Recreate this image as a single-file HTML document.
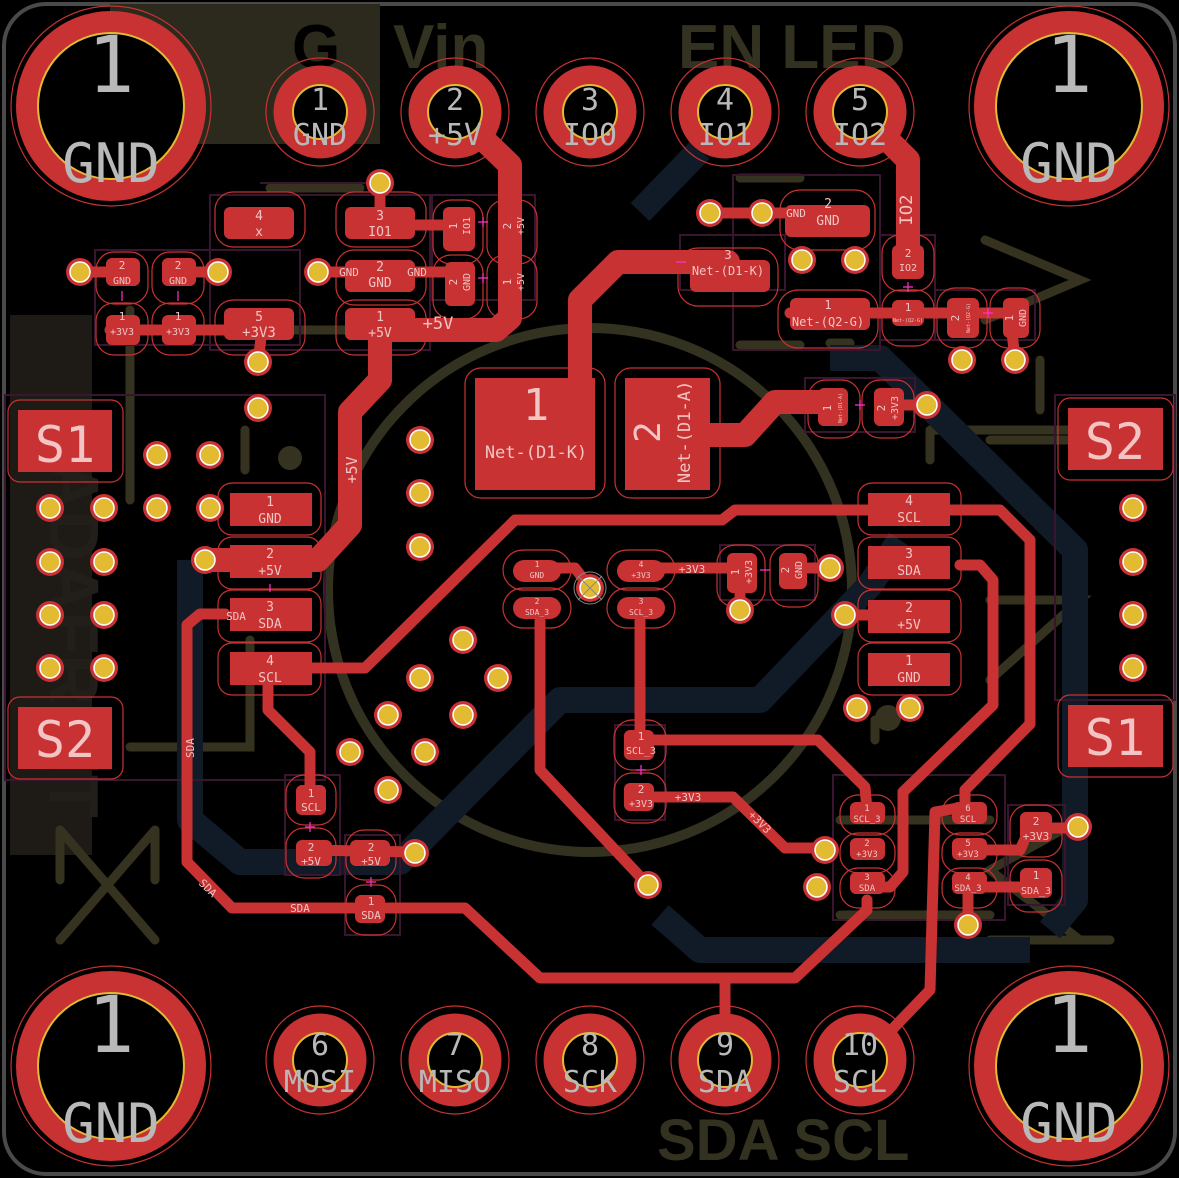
<!DOCTYPE html>
<html><head><meta charset="utf-8"><style>
html,body{margin:0;padding:0;background:#000;}
svg{display:block}
.pl{fill:#f2c4c4;font-family:"DejaVu Sans Mono","Liberation Mono",monospace;text-anchor:middle}
.gr{fill:#b9b9b9;font-family:"DejaVu Sans Mono","Liberation Mono",monospace;text-anchor:middle}
.sk{fill:#33311f;font-family:"Liberation Sans",sans-serif;font-weight:bold}
.p{fill:#c83232}
.o{fill:none;stroke:#c83232;stroke-width:1.2}
.t{fill:none;stroke:#c83232;stroke-linejoin:round;stroke-linecap:round}
.b{fill:none;stroke:#111b27;stroke-linejoin:round;stroke-width:26}
.s{fill:none;stroke:#35331f;stroke-width:9;stroke-linecap:round}
.c{fill:none;stroke:#3a1530;stroke-width:2}
</style></head><body>
<svg width="1179" height="1178" viewBox="0 0 1179 1178" xmlns="http://www.w3.org/2000/svg">
<defs>
<g id="via"><circle r="14" fill="#c83232"/><circle r="10" fill="#e3bb33" stroke="#fff" stroke-width="1.5"/></g>
</defs>
<rect x="0" y="0" width="1179" height="1178" fill="#000"/>
<rect x="4" y="4" width="1171" height="1170" rx="42" fill="none" stroke="#4a4a4a" stroke-width="4"/>

<rect x="110" y="4" width="270" height="140" fill="#2c2a1d"/>
<rect x="10" y="315" width="82" height="540" fill="#1e1a16"/>
<text x="292" y="68" font-size="62" font-family="Liberation Sans,sans-serif" font-weight="bold" fill="#000">G</text>
<text class="sk" x="393" y="68" font-size="62" font-weight="normal">Vin</text>
<text class="sk" x="678" y="68" font-size="62">EN LED</text>
<text class="sk" x="657" y="1160" font-size="58">SDA SCL</text>
<circle cx="590" cy="590" r="262" fill="none" stroke="#33311f" stroke-width="10"/>
<path class="s" d="M60 830 L155 940 M155 830 L60 940 M60 830 L60 880 M155 830 L155 880" stroke-width="12" stroke="#2e2c1c"/>
<path class="s" d="M985 240 L1080 280 L985 320 M1040 360 L1040 410 M990 440 L1080 440 M990 600 L1080 600 L990 680 M1080 820 L990 870 L1080 940 M990 940 L1110 940" stroke="#2a2520" stroke-width="12"/>
<path class="s" d="M270 188 L360 188 M270 330 L360 330 M740 178 L800 178 M740 345 L800 345 M830 343 L850 343 M130 747 L250 747 L250 640 M130 310 L130 500 M245 430 L245 470 M930 430 L1080 430 M930 430 L930 460 M875 720 L875 740 M840 820 L990 820 M840 915 L990 915"/>
<circle cx="290" cy="458" r="12" fill="#35331f"/>
<circle cx="888" cy="718" r="13" fill="#35331f"/>
<text x="50" y="460" transform="rotate(90 50 460)" font-family="Liberation Sans,sans-serif" font-weight="bold" font-size="70" fill="#221e1a">ADAFRUIT</text>

<path class="b" d="M640 212 L700 150"/>
<path class="b" d="M190 560 L190 820 L240 862 L400 862 L560 700 L760 700 L870 585 L900 540"/>
<path class="b" d="M830 358 L880 358 L1075 550 L1075 900 L1050 930 M660 915 L700 950 L1030 950"/>

<path class="c" d="M210 195 L430 195 L430 350 L210 350 Z M260 183 L380 183 M680 235 L785 235 L785 290 L680 290 Z M733 175 L880 175 L880 350 L733 350 Z M95 250 L300 250 L300 345 L95 345 Z M432 195 L535 195 L535 300 L432 300 Z M880 235 L935 235 L935 340 L880 340 Z M935 290 L1035 290 L1035 340 L935 340 Z M805 378 L915 378 L915 432 L805 432 Z M5 395 L325 395 L325 780 L5 780 Z M1055 395 L1175 395 L1175 700 L1055 700 Z M720 545 L815 545 L815 600 L720 600 Z M285 775 L340 775 L340 875 L285 875 Z M345 835 L400 835 L400 935 L345 935 Z M615 725 L665 725 L665 820 L615 820 Z M833 775 L1005 775 L1005 920 L833 920 Z M1008 805 L1065 805 L1065 905 L1008 905 Z"/>

<g class="t" stroke-width="24">
<path d="M455 112 L510 165 L510 318 L496 330 L385 330"/>
<path d="M380 330 L380 380 L350 412 L350 525 L318 560 L205 560"/>
<path d="M728 262 L618 262 L580 300 L580 380"/>
<path d="M860 112 L908 160 L908 262"/>
<path d="M700 435 L745 435 L775 402 L835 402"/>
</g>
<g class="t" stroke-width="11">
<path d="M110 330 L262 330 L258 362"/>
<path d="M80 272 L125 272 M178 272 L218 272 M318 272 L460 272"/>
<path d="M380 183 L380 222 M380 225 L458 225"/>
<path d="M710 213 L762 213 L820 213 M880 313 L1010 313 L1015 360"/>
<path d="M790 313 L935 313"/>
<path d="M927 405 L890 405"/>
<path d="M300 668 L365 668 L515 520 L722 520 L735 510 L1000 510 L1030 540 L1030 724 L965 790 L965 815 M958 808 L935 812 L930 990 L880 1042"/>
<path d="M960 565 L980 565 L993 580 L993 705 L903 792 L903 872 L890 887 L867 887 M867 900 L867 910 L795 978 L540 978 L465 908 L232 908 L187 862 L187 625 L200 614 L225 614"/>
<path d="M725 978 L725 1040"/>
<path d="M310 850 L415 852"/>
<path d="M268 680 L268 710 L310 752 L310 795"/>
<path d="M540 610 L540 770 L648 885"/>
<path d="M537 568 L575 568 L590 588"/>
<path d="M640 568 L740 568 L740 610"/>
<path d="M640 610 L640 740 M640 740 L818 740 L865 787 L867 810"/>
<path d="M640 797 L733 797 L785 848 L825 848"/>
<path d="M968 850 L1020 850 L1030 828 L1078 828"/>
<path d="M968 887 L1036 887 M968 887 L968 925"/>
<path d="M830 568 L790 568 M845 615 L870 615"/>
</g>

<g>
<g transform="translate(111,106)"><circle r="100" class="o"/><circle r="84" fill="none" stroke="#c83232" stroke-width="22"/><circle r="73" fill="#000" stroke="#e3bb33" stroke-width="2"/></g>
<g transform="translate(1069,106)"><circle r="100" class="o"/><circle r="84" fill="none" stroke="#c83232" stroke-width="22"/><circle r="73" fill="#000" stroke="#e3bb33" stroke-width="2"/></g>
<g transform="translate(111,1066)"><circle r="100" class="o"/><circle r="84" fill="none" stroke="#c83232" stroke-width="22"/><circle r="73" fill="#000" stroke="#e3bb33" stroke-width="2"/></g>
<g transform="translate(1069,1066)"><circle r="100" class="o"/><circle r="84" fill="none" stroke="#c83232" stroke-width="22"/><circle r="73" fill="#000" stroke="#e3bb33" stroke-width="2"/></g>
</g>
<g class="gr">
<text x="111" y="92" font-size="78">1</text><text x="111" y="182" font-size="54">GND</text>
<text x="1069" y="92" font-size="78">1</text><text x="1069" y="182" font-size="54">GND</text>
<text x="111" y="1052" font-size="78">1</text><text x="111" y="1142" font-size="54">GND</text>
<text x="1069" y="1052" font-size="78">1</text><text x="1069" y="1142" font-size="54">GND</text>
</g>

<g id="hdr">
<g transform="translate(320,112)"><circle r="54" class="o"/><circle r="37" fill="none" stroke="#c83232" stroke-width="19"/><circle r="27" fill="#000" stroke="#e3bb33" stroke-width="2"/></g>
<g transform="translate(455,112)"><circle r="54" class="o"/><circle r="37" fill="none" stroke="#c83232" stroke-width="19"/><circle r="27" fill="#000" stroke="#e3bb33" stroke-width="2"/></g>
<g transform="translate(590,112)"><circle r="54" class="o"/><circle r="37" fill="none" stroke="#c83232" stroke-width="19"/><circle r="27" fill="#000" stroke="#e3bb33" stroke-width="2"/></g>
<g transform="translate(725,112)"><circle r="54" class="o"/><circle r="37" fill="none" stroke="#c83232" stroke-width="19"/><circle r="27" fill="#000" stroke="#e3bb33" stroke-width="2"/></g>
<g transform="translate(860,112)"><circle r="54" class="o"/><circle r="37" fill="none" stroke="#c83232" stroke-width="19"/><circle r="27" fill="#000" stroke="#e3bb33" stroke-width="2"/></g>
</g>
<use href="#hdr" transform="translate(0,948)"/>
<g class="gr" font-size="30">
<text x="320" y="110">1</text><text x="320" y="145">GND</text>
<text x="455" y="110">2</text><text x="455" y="145">+5V</text>
<text x="590" y="110">3</text><text x="590" y="145">IO0</text>
<text x="725" y="110">4</text><text x="725" y="145">IO1</text>
<text x="860" y="110">5</text><text x="860" y="145">IO2</text>
<text x="320" y="1055">6</text><text x="320" y="1092">MOSI</text>
<text x="455" y="1055">7</text><text x="455" y="1092">MISO</text>
<text x="590" y="1055">8</text><text x="590" y="1092">SCK</text>
<text x="725" y="1055">9</text><text x="725" y="1092">SDA</text>
<text x="860" y="1055">10</text><text x="860" y="1092">SCL</text>
</g>

<g>
<rect x="215" y="192" width="90" height="55" rx="18" class="o"/><rect x="224" y="207" width="70" height="32" rx="6" class="p"/>
<rect x="336" y="192" width="90" height="55" rx="18" class="o"/><rect x="345" y="207" width="70" height="32" rx="6" class="p"/>
<rect x="336" y="250" width="90" height="55" rx="18" class="o"/><rect x="345" y="260" width="70" height="32" rx="6" class="p"/>
<rect x="336" y="300" width="90" height="55" rx="18" class="o"/><rect x="345" y="308" width="70" height="32" rx="6" class="p"/>
<rect x="215" y="300" width="90" height="55" rx="18" class="o"/><rect x="224" y="308" width="70" height="32" rx="6" class="p"/>
<rect x="96" y="252" width="52" height="52" rx="18" class="o"/><rect x="106" y="258" width="34" height="28" rx="6" class="p"/>
<rect x="152" y="252" width="52" height="52" rx="18" class="o"/><rect x="162" y="258" width="34" height="28" rx="6" class="p"/>
<rect x="96" y="303" width="52" height="52" rx="18" class="o"/><rect x="106" y="315" width="34" height="30" rx="6" class="p"/>
<rect x="152" y="303" width="52" height="52" rx="18" class="o"/><rect x="162" y="315" width="34" height="30" rx="6" class="p"/>
<rect x="433" y="200" width="50" height="64" rx="18" class="o"/><rect x="443" y="207" width="32" height="44" rx="6" class="p"/>
<rect x="487" y="200" width="50" height="64" rx="18" class="o"/>
<rect x="433" y="255" width="50" height="64" rx="18" class="o"/><rect x="445" y="262" width="30" height="44" rx="6" class="p"/>
<rect x="487" y="255" width="50" height="64" rx="18" class="o"/>
<rect x="465" y="368" width="140" height="130" rx="16" class="o"/><rect x="475" y="378" width="120" height="112" class="p"/>
<rect x="615" y="368" width="105" height="130" rx="16" class="o"/><rect x="625" y="378" width="85" height="112" class="p"/>
<rect x="780" y="190" width="95" height="60" rx="20" class="o"/><rect x="785" y="205" width="85" height="32" rx="6" class="p"/>
<rect x="678" y="248" width="100" height="58" rx="20" class="o"/><rect x="690" y="260" width="80" height="32" rx="6" class="p"/>
<rect x="778" y="290" width="100" height="58" rx="20" class="o"/><rect x="790" y="298" width="80" height="32" rx="6" class="p"/>
<rect x="882" y="235" width="52" height="56" rx="18" class="o"/><rect x="892" y="245" width="32" height="34" rx="6" class="p"/>
<rect x="882" y="290" width="52" height="56" rx="18" class="o"/><rect x="892" y="300" width="32" height="26" rx="6" class="p"/>
<rect x="937" y="288" width="50" height="60" rx="18" class="o"/><rect x="947" y="298" width="32" height="40" rx="6" class="p"/>
<rect x="990" y="288" width="50" height="60" rx="18" class="o"/><rect x="1003" y="298" width="26" height="40" rx="6" class="p"/>
<rect x="808" y="380" width="52" height="58" rx="18" class="o"/><rect x="818" y="388" width="30" height="38" rx="6" class="p"/>
<rect x="862" y="380" width="52" height="58" rx="18" class="o"/><rect x="874" y="388" width="30" height="38" rx="6" class="p"/>
<rect x="8" y="400" width="115" height="82" rx="12" class="o"/><rect x="18" y="410" width="94" height="62" class="p"/>
<rect x="8" y="697" width="115" height="82" rx="12" class="o"/><rect x="18" y="707" width="94" height="62" class="p"/>
<rect x="1058" y="398" width="115" height="82" rx="12" class="o"/><rect x="1068" y="408" width="95" height="62" class="p"/>
<rect x="1058" y="695" width="115" height="82" rx="12" class="o"/><rect x="1068" y="705" width="95" height="62" class="p"/>
<rect x="218" y="483" width="103" height="52" rx="14" class="o"/><rect x="230" y="493" width="82" height="33" class="p"/>
<rect x="218" y="537" width="103" height="52" rx="14" class="o"/><rect x="230" y="545" width="82" height="33" class="p"/>
<rect x="218" y="590" width="103" height="52" rx="14" class="o"/><rect x="230" y="598" width="82" height="33" class="p"/>
<rect x="218" y="643" width="103" height="52" rx="14" class="o"/><rect x="230" y="652" width="82" height="33" class="p"/>
<rect x="858" y="483" width="103" height="52" rx="14" class="o"/><rect x="868" y="493" width="82" height="33" class="p"/>
<rect x="858" y="537" width="103" height="52" rx="14" class="o"/><rect x="868" y="546" width="82" height="33" class="p"/>
<rect x="858" y="590" width="103" height="52" rx="14" class="o"/><rect x="868" y="600" width="82" height="33" class="p"/>
<rect x="858" y="643" width="103" height="52" rx="14" class="o"/><rect x="868" y="653" width="82" height="33" class="p"/>
<rect x="503" y="550" width="68" height="40" rx="20" class="o"/><rect x="513" y="560" width="48" height="22" rx="11" class="p"/>
<rect x="503" y="588" width="68" height="40" rx="20" class="o"/><rect x="513" y="597" width="48" height="22" rx="11" class="p"/>
<rect x="607" y="550" width="68" height="40" rx="20" class="o"/><rect x="617" y="560" width="48" height="22" rx="11" class="p"/>
<rect x="607" y="588" width="68" height="40" rx="20" class="o"/><rect x="617" y="597" width="48" height="22" rx="11" class="p"/>
<rect x="717" y="545" width="48" height="62" rx="18" class="o"/><rect x="727" y="553" width="30" height="40" rx="6" class="p"/>
<rect x="770" y="545" width="48" height="62" rx="18" class="o"/><rect x="779" y="553" width="28" height="36" rx="6" class="p"/>
<rect x="286" y="775" width="50" height="50" rx="18" class="o"/><rect x="296" y="785" width="30" height="30" rx="6" class="p"/>
<rect x="286" y="828" width="50" height="50" rx="18" class="o"/><rect x="296" y="840" width="36" height="26" rx="6" class="p"/>
<rect x="346" y="830" width="50" height="50" rx="18" class="o"/><rect x="350" y="840" width="40" height="26" rx="6" class="p"/>
<rect x="346" y="885" width="50" height="50" rx="18" class="o"/><rect x="355" y="895" width="30" height="28" rx="6" class="p"/>
<rect x="614" y="720" width="52" height="50" rx="18" class="o"/><rect x="624" y="730" width="30" height="30" rx="6" class="p"/>
<rect x="614" y="773" width="52" height="50" rx="18" class="o"/><rect x="624" y="783" width="30" height="28" rx="6" class="p"/>
<rect x="840" y="795" width="55" height="40" rx="18" class="o"/><rect x="850" y="802" width="35" height="22" rx="6" class="p"/>
<rect x="840" y="833" width="55" height="40" rx="18" class="o"/><rect x="850" y="838" width="35" height="22" rx="6" class="p"/>
<rect x="840" y="868" width="55" height="40" rx="18" class="o"/><rect x="850" y="872" width="35" height="22" rx="6" class="p"/>
<rect x="942" y="795" width="55" height="40" rx="18" class="o"/><rect x="952" y="802" width="35" height="22" rx="6" class="p"/>
<rect x="942" y="833" width="55" height="40" rx="18" class="o"/><rect x="952" y="838" width="35" height="22" rx="6" class="p"/>
<rect x="942" y="868" width="55" height="40" rx="18" class="o"/><rect x="952" y="872" width="35" height="22" rx="6" class="p"/>
<rect x="1010" y="805" width="52" height="52" rx="18" class="o"/><rect x="1020" y="812" width="32" height="30" rx="6" class="p"/>
<rect x="1010" y="860" width="52" height="52" rx="18" class="o"/><rect x="1020" y="868" width="32" height="30" rx="6" class="p"/>
</g>

<g>
<use href="#via" x="380" y="183"/><use href="#via" x="80" y="272"/><use href="#via" x="218" y="272"/><use href="#via" x="318" y="272"/>
<use href="#via" x="258" y="362"/><use href="#via" x="258" y="408"/><use href="#via" x="157" y="455"/><use href="#via" x="210" y="455"/>
<use href="#via" x="50" y="508"/><use href="#via" x="104" y="508"/><use href="#via" x="157" y="508"/><use href="#via" x="210" y="508"/>
<use href="#via" x="50" y="562"/><use href="#via" x="104" y="562"/><use href="#via" x="50" y="615"/><use href="#via" x="104" y="615"/>
<use href="#via" x="50" y="668"/><use href="#via" x="104" y="668"/><use href="#via" x="205" y="560"/>
<use href="#via" x="420" y="440"/><use href="#via" x="420" y="493"/><use href="#via" x="420" y="547"/>
<use href="#via" x="463" y="640"/><use href="#via" x="498" y="678"/><use href="#via" x="420" y="678"/><use href="#via" x="388" y="715"/>
<use href="#via" x="463" y="715"/><use href="#via" x="350" y="752"/><use href="#via" x="425" y="752"/><use href="#via" x="388" y="790"/>
<use href="#via" x="415" y="853"/><use href="#via" x="648" y="885"/><use href="#via" x="710" y="213"/><use href="#via" x="762" y="213"/>
<use href="#via" x="802" y="260"/><use href="#via" x="855" y="260"/><use href="#via" x="962" y="360"/><use href="#via" x="1015" y="360"/>
<use href="#via" x="927" y="405"/><use href="#via" x="830" y="568"/><use href="#via" x="740" y="610"/><use href="#via" x="845" y="615"/>
<use href="#via" x="857" y="708"/><use href="#via" x="910" y="708"/><use href="#via" x="1133" y="508"/><use href="#via" x="1133" y="562"/>
<use href="#via" x="1133" y="615"/><use href="#via" x="1133" y="668"/><use href="#via" x="825" y="850"/><use href="#via" x="817" y="887"/>
<use href="#via" x="1078" y="827"/><use href="#via" x="968" y="925"/><use href="#via" x="590" y="588"/>
</g>
<path d="M578 576 L602 600 M602 576 L578 600" stroke="#888" stroke-width="1"/>
<circle cx="590" cy="588" r="16" fill="none" stroke="#888" stroke-width="1"/>

<g class="pl">
<text x="259" y="220" font-size="13">4</text><text x="259" y="236" font-size="13">x</text>
<text x="380" y="220" font-size="13">3</text><text x="380" y="236" font-size="13">IO1</text>
<text x="380" y="271" font-size="13">2</text><text x="380" y="287" font-size="13">GND</text>
<text x="349" y="276" font-size="11">GND</text><text x="417" y="276" font-size="11">GND</text>
<text x="380" y="321" font-size="13">1</text><text x="380" y="337" font-size="13">+5V</text>
<text x="438" y="329" font-size="17">+5V</text>
<text x="259" y="321" font-size="13">5</text><text x="259" y="337" font-size="14">+3V3</text>
<text x="122" y="269" font-size="11">2</text><text x="122" y="284" font-size="10">GND</text>
<text x="178" y="269" font-size="11">2</text><text x="178" y="284" font-size="10">GND</text>
<text x="122" y="320" font-size="11">1</text><text x="122" y="335" font-size="10">+3V3</text>
<text x="178" y="320" font-size="11">1</text><text x="178" y="335" font-size="10">+3V3</text>
<text x="536" y="420" font-size="44">1</text><text x="536" y="458" font-size="17">Net-(D1-K)</text>
<g transform="translate(660,432) rotate(-90)"><text x="0" y="0" font-size="36">2</text><text x="0" y="30" font-size="17">Net-(D1-A)</text></g>
<g transform="translate(351,470) rotate(-90)"><text x="0" y="6" font-size="15">+5V</text></g>
<text x="728" y="259" font-size="12">3</text><text x="728" y="275" font-size="12">Net-(D1-K)</text>
<text x="828" y="208" font-size="13">2</text><text x="828" y="225" font-size="13">GND</text>
<text x="796" y="217" font-size="11">GND</text>
<text x="828" y="309" font-size="12">1</text><text x="828" y="326" font-size="12">Net-(Q2-G)</text>
<text x="908" y="257" font-size="11">2</text><text x="908" y="271" font-size="10">IO2</text>
<text x="908" y="311" font-size="11">1</text><text x="908" y="322" font-size="5">Net-(Q2-G)</text>
<g transform="translate(912,210) rotate(-90)"><text x="0" y="0" font-size="17">IO2</text></g>
<g transform="translate(962,318) rotate(-90)"><text x="0" y="-3" font-size="11">2</text><text x="0" y="8" font-size="5">Net-(Q2-G)</text></g>
<g transform="translate(1016,318) rotate(-90)"><text x="0" y="-3" font-size="11">1</text><text x="0" y="10" font-size="10">GND</text></g>
<g transform="translate(834,408) rotate(-90)"><text x="0" y="-3" font-size="11">1</text><text x="0" y="8" font-size="5">Net-(D1-A)</text></g>
<g transform="translate(888,408) rotate(-90)"><text x="0" y="-3" font-size="11">2</text><text x="0" y="10" font-size="10">+3V3</text></g>
<g transform="translate(460,226) rotate(-90)"><text x="0" y="-3" font-size="11">1</text><text x="0" y="10" font-size="10">IO1</text></g>
<g transform="translate(514,226) rotate(-90)"><text x="0" y="-3" font-size="11">2</text><text x="0" y="10" font-size="10">+5V</text></g>
<g transform="translate(460,282) rotate(-90)"><text x="0" y="-3" font-size="11">2</text><text x="0" y="10" font-size="10">GND</text></g>
<g transform="translate(514,282) rotate(-90)"><text x="0" y="-3" font-size="11">1</text><text x="0" y="10" font-size="10">+5V</text></g>
<text x="65" y="462" font-size="50">S1</text><text x="65" y="757" font-size="50">S2</text>
<text x="1115" y="459" font-size="50">S2</text><text x="1115" y="755" font-size="50">S1</text>
<text x="270" y="506" font-size="13">1</text><text x="270" y="523" font-size="13">GND</text>
<text x="270" y="558" font-size="13">2</text><text x="270" y="575" font-size="13">+5V</text>
<text x="270" y="611" font-size="13">3</text><text x="270" y="628" font-size="13">SDA</text>
<text x="236" y="620" font-size="11">SDA</text>
<text x="270" y="665" font-size="13">4</text><text x="270" y="682" font-size="13">SCL</text>
<text x="909" y="505" font-size="13">4</text><text x="909" y="522" font-size="13">SCL</text>
<text x="909" y="558" font-size="13">3</text><text x="909" y="575" font-size="13">SDA</text>
<text x="909" y="612" font-size="13">2</text><text x="909" y="629" font-size="13">+5V</text>
<text x="909" y="665" font-size="13">1</text><text x="909" y="682" font-size="13">GND</text>
<text x="537" y="567" font-size="8">1</text><text x="537" y="578" font-size="8">GND</text>
<text x="537" y="604" font-size="8">2</text><text x="537" y="615" font-size="8">SDA_3</text>
<text x="641" y="567" font-size="8">4</text><text x="641" y="578" font-size="8">+3V3</text>
<text x="641" y="604" font-size="8">3</text><text x="641" y="615" font-size="8">SCL_3</text>
<text x="692" y="573" font-size="11">+3V3</text>
<g transform="translate(742,572) rotate(-90)"><text x="0" y="-3" font-size="11">1</text><text x="0" y="10" font-size="10">+3V3</text></g>
<g transform="translate(792,570) rotate(-90)"><text x="0" y="-3" font-size="11">2</text><text x="0" y="10" font-size="10">GND</text></g>
<text x="311" y="797" font-size="11">1</text><text x="311" y="811" font-size="11">SCL</text>
<text x="311" y="851" font-size="11">2</text><text x="311" y="865" font-size="11">+5V</text>
<text x="371" y="851" font-size="11">2</text><text x="371" y="865" font-size="11">+5V</text>
<text x="371" y="905" font-size="11">1</text><text x="371" y="919" font-size="11">SDA</text>
<text x="300" y="912" font-size="11">SDA</text>
<g transform="translate(190,748) rotate(-90)"><text x="0" y="4" font-size="11">SDA</text></g>
<g transform="translate(208,888) rotate(45)"><text x="0" y="4" font-size="11">SDA</text></g>
<text x="641" y="740" font-size="11">1</text><text x="641" y="754" font-size="10">SCL_3</text>
<text x="641" y="793" font-size="11">2</text><text x="641" y="807" font-size="10">+3V3</text>
<text x="688" y="801" font-size="11">+3V3</text>
<g transform="translate(760,822) rotate(45)"><text x="0" y="4" font-size="11">+3V3</text></g>
<text x="867" y="811" font-size="9">1</text><text x="867" y="822" font-size="9">SCL_3</text>
<text x="867" y="846" font-size="9">2</text><text x="867" y="857" font-size="9">+3V3</text>
<text x="867" y="880" font-size="9">3</text><text x="867" y="891" font-size="9">SDA</text>
<text x="968" y="811" font-size="9">6</text><text x="968" y="822" font-size="9">SCL</text>
<text x="968" y="846" font-size="9">5</text><text x="968" y="857" font-size="9">+3V3</text>
<text x="968" y="880" font-size="9">4</text><text x="968" y="891" font-size="9">SDA_3</text>
<text x="1036" y="825" font-size="11">2</text><text x="1036" y="840" font-size="11">+3V3</text>
<text x="1036" y="879" font-size="11">1</text><text x="1036" y="894" font-size="10">SDA_3</text>
</g>
<path d="M478 222 L488 222 M483 217 L483 227 M478 278 L488 278 M483 273 L483 283 M122 291 L122 301 M178 291 L178 301 M903 287 L913 287 M908 282 L908 292 M983 313 L993 313 M988 308 L988 318 M855 405 L865 405 M860 400 L860 410 M760 570 L770 570 M270 584 L270 592 M305 827 L315 827 M310 822 L310 832 M366 882 L376 882 M371 877 L371 887 M636 770 L646 770 M641 765 L641 775 M676 262 L686 262" stroke="#ff33cc" stroke-width="1.2"/>
</svg>
</body></html>
